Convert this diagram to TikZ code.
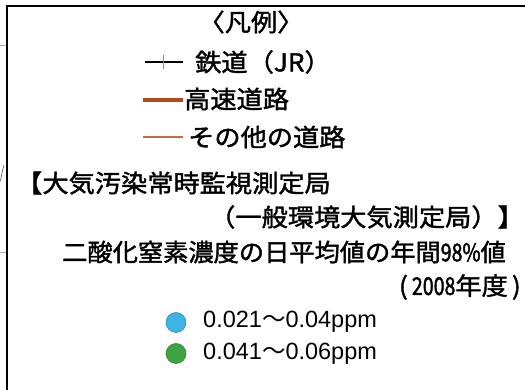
\documentclass[tikz,border=0pt]{standalone}
\usepackage{fontspec}
\setmainfont{Noto Sans CJK JP}
\newfontfamily\jp[FakeStretch=1.07,FakeBold=1.6]{Noto Sans CJK JP}
\newfontfamily\jps[FakeStretch=1.03,FakeBold=1.6]{Noto Sans CJK JP}
\newfontfamily\jpn[FakeStretch=0.8,FakeBold=1.6]{Noto Sans CJK JP}
\newfontfamily\jpw{Noto Sans CJK JP}
\newfontfamily\ppmfont{Liberation Sans}
\definecolor{hwy}{RGB}{178,74,32}
\definecolor{road}{RGB}{196,106,70}
\definecolor{dotblue}{RGB}{62,180,230}
\definecolor{dotgreen}{RGB}{62,163,64}
\definecolor{mapgray}{RGB}{170,170,170}
\tikzset{
  jtext/.style={inner sep=0pt, font=\jp\fontsize{24.5}{28}\selectfont},
  jtexts/.style={inner sep=0pt, font=\jps\fontsize{24.5}{28}\selectfont},
  ptext/.style={inner sep=0pt, font=\ppmfont\fontsize{23.5}{27}\selectfont},
  frameline/.style={line width=2.8pt, black},
  dot/.style={circle, inner sep=0pt, minimum size=20pt, draw=#1!80!black, line width=0.6pt, fill=#1}
}
\begin{document}
\begin{tikzpicture}[x=1pt, y=-1pt]
\useasboundingbox (0,0) rectangle (525,390);
% map fragments at the left edge
\draw[mapgray, line width=0.6pt] (0,45) -- (6,45);
\draw[mapgray, line width=0.6pt] (0,252) -- (6,252);
\draw[black!70, line width=0.6pt] (0.5,181) .. controls (1.5,175) and (2.5,170) .. (4,165);
% frame
\coordinate (fbl) at (7,390);
\coordinate (ftl) at (7,6);
\coordinate (ftr) at (525,6);
\draw[frameline] (fbl) -- (ftl) -- (ftr);
% title
\node[jtext] (title) at (251,22) {〈凡例〉};
% railway
\coordinate (r1) at (145,62);
\coordinate (r2) at (183,62);
\coordinate (rt1) at (163,55);
\coordinate (rt2) at (163,69);
\draw[black, line width=2.6pt] (r1) -- (r2);
\draw[black!45, line width=1pt] (rt1) -- (rt2);
\node[jtext, anchor=west] (rail) at (195,62) {鉄道（JR）};
% highway
\coordinate (h1) at (143,100);
\coordinate (h2) at (183,100);
\draw[hwy, line width=4.2pt] (h1) -- (h2);
\node[jtext, anchor=west] (hwyt) at (184,99) {高速道路};
% other roads
\coordinate (o1) at (143,137);
\coordinate (o2) at (183,137);
\draw[road, line width=2.4pt] (o1) -- (o2);
\node[jtext, anchor=west] (roadt) at (188,137) {その他の道路};
% station headings
\node[jtext, anchor=west] (h1t) at (16,183) {【大気汚染常時監視測定局};
\node[jtext, anchor=east] (h2t) at (524,217) {（一般環境大気測定局）】};
\node[jtexts, anchor=east] (h3t) at (506,252) {二酸化窒素濃度の日平均値の年間{\jpn 98\%}値};
\node[jtext, anchor=east] (h4t) at (521,287) {({\jpn\,2008}年度\,)};
% dots
\node[dot=dotblue] (d1) at (176,322.5) {};
\node[ptext, anchor=west] (p1) at (203,322) {0.021{\jpw ～}0.04ppm};
\node[dot=dotgreen] (d2) at (176,353.5) {};
\node[ptext, anchor=west] (p2) at (203,353.5) {0.041{\jpw ～}0.06ppm};
\end{tikzpicture}
\end{document}
